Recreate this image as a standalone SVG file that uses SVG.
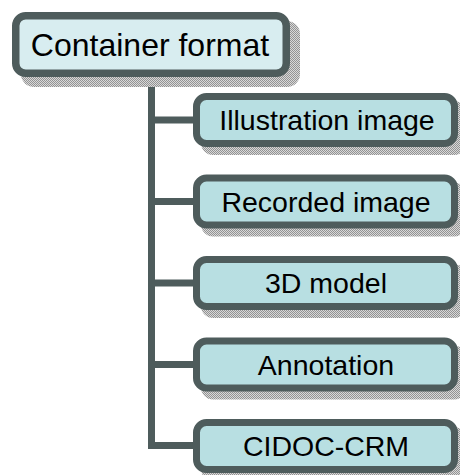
<svg xmlns="http://www.w3.org/2000/svg" width="460" height="475" viewBox="0 0 460 475">
<defs>
<pattern id="hatch" width="2" height="2" patternUnits="userSpaceOnUse">
<rect width="2" height="2" fill="#d8d8d8"/>
<rect width="1" height="1" fill="#939393"/>
<rect x="1" y="1" width="1" height="1" fill="#939393"/>
</pattern>
</defs>
<style>
.conn{fill:none;stroke:#4e5c5c;stroke-width:7;stroke-linejoin:miter;stroke-linecap:butt}
.shadow{fill:url(#hatch)}
.root{fill:#d8edf0;stroke:#4e5c5c;stroke-width:7.5}
.child{fill:#b8dfe2;stroke:#4e5c5c;stroke-width:7}
.t{font-family:"Liberation Sans",Arial,sans-serif;fill:#000;text-anchor:middle}
.rt{font-size:32px}
.ct{font-size:28.5px}
</style>
<g id="connectors">
<path class="conn" d="M151.5 76 V445.5 H197"/>
<path class="conn" d="M151.5 120 H197"/>
<path class="conn" d="M151.5 201.5 H197"/>
<path class="conn" d="M151.5 283 H197"/>
<path class="conn" d="M151.5 364.5 H197"/>
</g>
<g id="root">
<rect class="shadow" x="21" y="21" width="279" height="66" rx="13"/>
<rect class="root" x="15.75" y="15.75" width="270.5" height="57.5" rx="10"/>
<text class="t rt" x="150" y="56">Container format</text>
</g>
<g id="n1">
<rect class="shadow" x="201" y="101" width="265" height="54" rx="12"/>
<rect class="child" x="196.5" y="96.5" width="258" height="47" rx="10"/>
<text class="t ct" x="327" y="130">Illustration image</text>
</g>
<g id="n2">
<rect class="shadow" x="201" y="182.5" width="265" height="54" rx="12"/>
<rect class="child" x="196.5" y="178" width="258" height="47" rx="10"/>
<text class="t ct" x="326" y="211.5">Recorded image</text>
</g>
<g id="n3">
<rect class="shadow" x="201" y="264" width="265" height="54" rx="12"/>
<rect class="child" x="196.5" y="259.5" width="258" height="47" rx="10"/>
<text class="t ct" x="326" y="293">3D model</text>
</g>
<g id="n4">
<rect class="shadow" x="201" y="345.5" width="265" height="54" rx="12"/>
<rect class="child" x="196.5" y="341" width="258" height="47" rx="10"/>
<text class="t ct" x="326" y="374.5">Annotation</text>
</g>
<g id="n5">
<rect class="shadow" x="201" y="427" width="265" height="54" rx="12"/>
<rect class="child" x="196.5" y="422.5" width="258" height="47" rx="10"/>
<text class="t ct" x="326" y="456">CIDOC-CRM</text>
</g>
</svg>
